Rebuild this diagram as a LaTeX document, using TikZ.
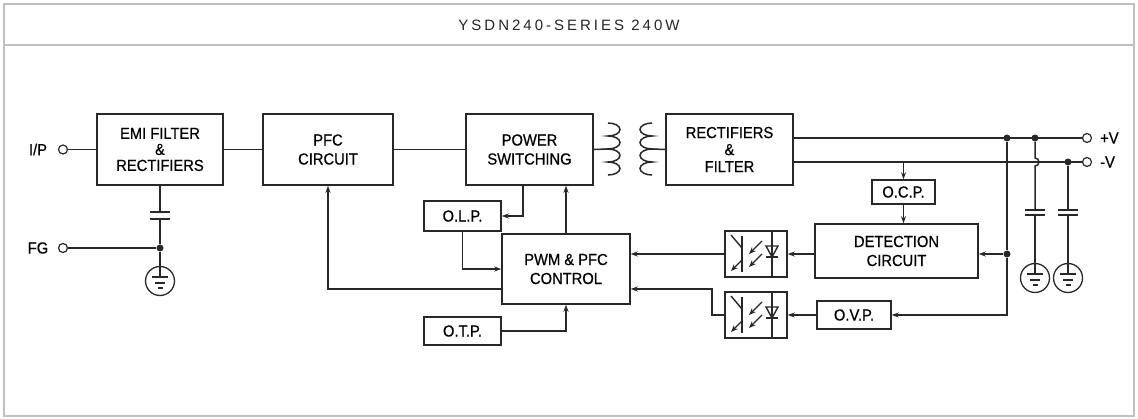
\documentclass[tikz,border=0pt]{standalone}
\usepackage{fontspec}
\setmainfont{Liberation Sans}
\newfontfamily\blockfont[FakeStretch=0.92,FakeBold=0.6]{Liberation Sans}
\newfontfamily\titlefont[LetterSpace=20]{Liberation Sans}
\usepackage{tikz}
\definecolor{linegray}{RGB}{40,40,40}
\definecolor{framegray}{RGB}{192,192,192}
\definecolor{titlegray}{RGB}{40,36,36}
\usetikzlibrary{arrows.meta}
\pgfdeclarelayer{edgelayer}
\pgfdeclarelayer{nodelayer}
\pgfsetlayers{edgelayer,nodelayer,main}
\tikzstyle{block}=[rectangle,draw=linegray,fill=white,line width=1.5pt,align=center,inner sep=0pt,font=\blockfont\fontsize{16}{19}\selectfont]
\tikzstyle{opto}=[rectangle,draw=linegray,fill=white,line width=1.5pt,minimum width=62pt,minimum height=46pt]
\tikzstyle{term}=[circle,draw=linegray,fill=white,line width=1.2pt,inner sep=0pt,minimum size=9pt]
\tikzstyle{dot}=[circle,fill=linegray,inner sep=0pt,minimum size=7pt]
\tikzstyle{gnd}=[circle,draw=linegray,line width=1.3pt,inner sep=0pt,minimum size=29pt]
\tikzstyle{lbl}=[font=\blockfont\fontsize{16}{19}\selectfont,inner sep=0pt]
\tikzstyle{wire}=[draw=linegray,line width=1.5pt]
\tikzstyle{sig}=[wire,-{Stealth[length=7pt,width=5pt]}]

\begin{document}
\begin{tikzpicture}[x=1pt,y=1pt]
        \useasboundingbox (0,0) rectangle (1138,-419);
        \draw [framegray, line width=1.5pt] (4,-4) rectangle (1134,-416);
        \draw [framegray, line width=1.5pt] (4,-45) -- (1134,-45);
        \node [text=titlegray, font=\titlefont\fontsize{15}{18}\selectfont] (title) at (569,-25) {YSDN240-SERIES 240W};

        \begin{pgfonlayer}{nodelayer}
            \node [style = block, minimum width=126pt, minimum height=71pt, font=\blockfont\fontsize{16}{16}\selectfont] (emi) at (160,-149.5) {EMI FILTER\\\&\\RECTIFIERS};
            \node [style = block, minimum width=130pt, minimum height=71pt] (pfc) at (328,-149.5) {PFC\\CIRCUIT};
            \node [style = block, minimum width=127pt, minimum height=71pt] (psw) at (529.5,-149.5) {POWER\\SWITCHING};
            \node [style = block, minimum width=127pt, minimum height=71pt, font=\blockfont\fontsize{16}{17}\selectfont] (rect) at (729.5,-149.5) {RECTIFIERS\\\&\\FILTER};

            \node [style = block, minimum width=77pt, minimum height=30pt] (olp) at (462.5,-216) {O.L.P.};
            \node [style = block, minimum width=77pt, minimum height=28pt] (otp) at (462.5,-331) {O.T.P.};
            \node [style = block, minimum width=128pt, minimum height=70pt] (pwm) at (566,-269) {PWM \& PFC\\CONTROL};

            \node [style = block, minimum width=63pt, minimum height=24pt] (ocp) at (903.5,-192) {O.C.P.};
            \node [style = block, minimum width=163pt, minimum height=54pt] (det) at (896.5,-251) {DETECTION\\CIRCUIT};
            \node [style = block, minimum width=74pt, minimum height=28pt] (ovp) at (854,-315) {O.V.P.};

            \node [style = opto] (opto1) at (756,-254) {};
            \node [style = opto] (opto2) at (756,-315) {};

            \node [style = term] (ip) at (63,-149.5) {};
            \node [style = term] (fg) at (63,-248) {};
            \node [style = term] (pv) at (1087,-138) {};
            \node [style = term] (nv) at (1087,-162) {};
            \node [style = lbl] (iplbl) at (38,-149.5) {I/P};
            \node [style = lbl] (fglbl) at (38,-248) {FG};
            \node [style = lbl, anchor=west] (pvlbl) at (1100,-138) {+V};
            \node [style = lbl, anchor=west] (nvlbl) at (1100,-162) {-V};

            \node [style = dot] (fgdot) at (160,-248) {};
            \node [style = dot] (d1) at (1007,-138) {};
            \node [style = dot] (d2) at (1035,-138) {};
            \node [style = dot] (d3) at (1068,-162) {};
            \node [style = dot] (d4) at (1007,-254) {};

            \node [style = gnd] (gnd1) at (160,-281) {};
            \node [style = gnd] (gnd2) at (1035,-278) {};
            \node [style = gnd] (gnd3) at (1068,-278) {};
        \end{pgfonlayer}

        \coordinate (coil1) at (608,-149);
        \coordinate (coil2) at (652,-149);
        \coordinate (capa1) at (160,-212);
        \coordinate (capb1) at (160,-219);
        \coordinate (capa2) at (1035,-210);
        \coordinate (capb2) at (1035,-215);
        \coordinate (capa3) at (1068,-210);
        \coordinate (capb3) at (1068,-215);
        \coordinate (kink) at (712,-289);

        \begin{pgfonlayer}{edgelayer}
            % power path
            \draw [wire] (ip) -- (emi.west);
            \draw [wire] (emi.east) -- (pfc.west);
            \draw [wire] (pfc.east) -- (psw.west);
            \draw [wire] (psw.east) -- (coil1);
            \draw [wire] (coil2) -- (rect.west);
            \draw [wire] (608,-123) \foreach \k in {1,...,4} {arc[start angle=90, end angle=-90, x radius=12, y radius=6.5]};
            \draw [wire] (652,-123) \foreach \k in {1,...,4} {arc[start angle=90, end angle=270, x radius=12, y radius=6.5]};

            % frame ground
            \draw [wire] (emi.south) -- (capa1);
            \draw [wire] (capb1) -- (fgdot);
            \draw [wire] (fg) -- (fgdot);
            \draw [wire] (fgdot) -- ([yshift=4pt]gnd1.center);

            % outputs
            \draw [wire] (rect.east |- pv) -- (pv);
            \draw [wire] (rect.east |- nv) -- (nv);
            \draw [wire] (d2) -- ([yshift=4pt]d2 |- nv) arc[start angle=90, end angle=-90, radius=4] -- (capa2);
            \draw [wire] (capb2) -- ([yshift=4pt]gnd2.center);
            \draw [wire] (d3) -- (capa3);
            \draw [wire] (capb3) -- ([yshift=4pt]gnd3.center);
            \draw [wire] (d1) -- (d4);
            \draw [sig] (d4) |- (ovp.east);
            \draw [sig] (d4) -- (det.east |- d4);

            % feedback
            \draw [sig] (ocp.north |- nv) -- (ocp.north);
            \draw [sig] (ocp.south) -- (ocp.south |- det.north);
            \draw [sig] (det.west |- opto1) -- (opto1.east);
            \draw [sig] (opto1.west) -- (pwm.east |- opto1);
            \draw [sig] (ovp.west) -- (opto2.east);
            \draw [sig] (opto2.west) -| (kink) -- (pwm.east |- kink);

            % control
            \draw [sig] (pwm.north) -- (pwm.north |- psw.south);
            \draw [sig] ([xshift=-6.5pt]psw.south) |- (olp.east);
            \draw [sig] (olp.south) |- (pwm.west);
            \draw [sig] ([yshift=-20pt]pwm.west) -| (pfc.south);
            \draw [sig] (otp.east) -| (pwm.south);
        \end{pgfonlayer}

        % capacitor plates
        \foreach \c in {capa1,capb1,capa2,capb2,capa3,capb3}
            \draw [wire] ([xshift=-10pt]\c) -- ([xshift=10pt]\c);

        % earth bars
        \foreach \g in {gnd1,gnd2,gnd3} {
            \draw [wire] ([shift={(-8,4)}]\g.center) -- ++(16,0);
            \draw [wire] ([shift={(-5,-2)}]\g.center) -- ++(10,0);
            \draw [wire] ([shift={(-2.5,-7)}]\g.center) -- ++(5,0);
        }

        % optocouplers
        \foreach \o in {opto1,opto2} {
            \begin{scope}[shift={(\o.center)}, line width=1.4pt, draw=linegray]
                \draw (-14,18) -- (-14,-18);
                \draw (-25,19) -- (-14,6);
                \draw [-{Stealth[length=7pt,width=5.5pt]}] (-14,-6) -- (-25,-17);
                \draw [-{Stealth[length=7pt,width=5.5pt]}] (6,13) -- (-7,0);
                \draw [-{Stealth[length=7pt,width=5.5pt]}] (6,0) -- (-7,-13);
                \draw (16,23) -- (16,-23);
                \draw (10,8) -- (22,8) -- (16,-3) -- cycle;
                \draw (10,-3) -- (22,-3);
            \end{scope}
        }
    \end{tikzpicture}
\end{document}
